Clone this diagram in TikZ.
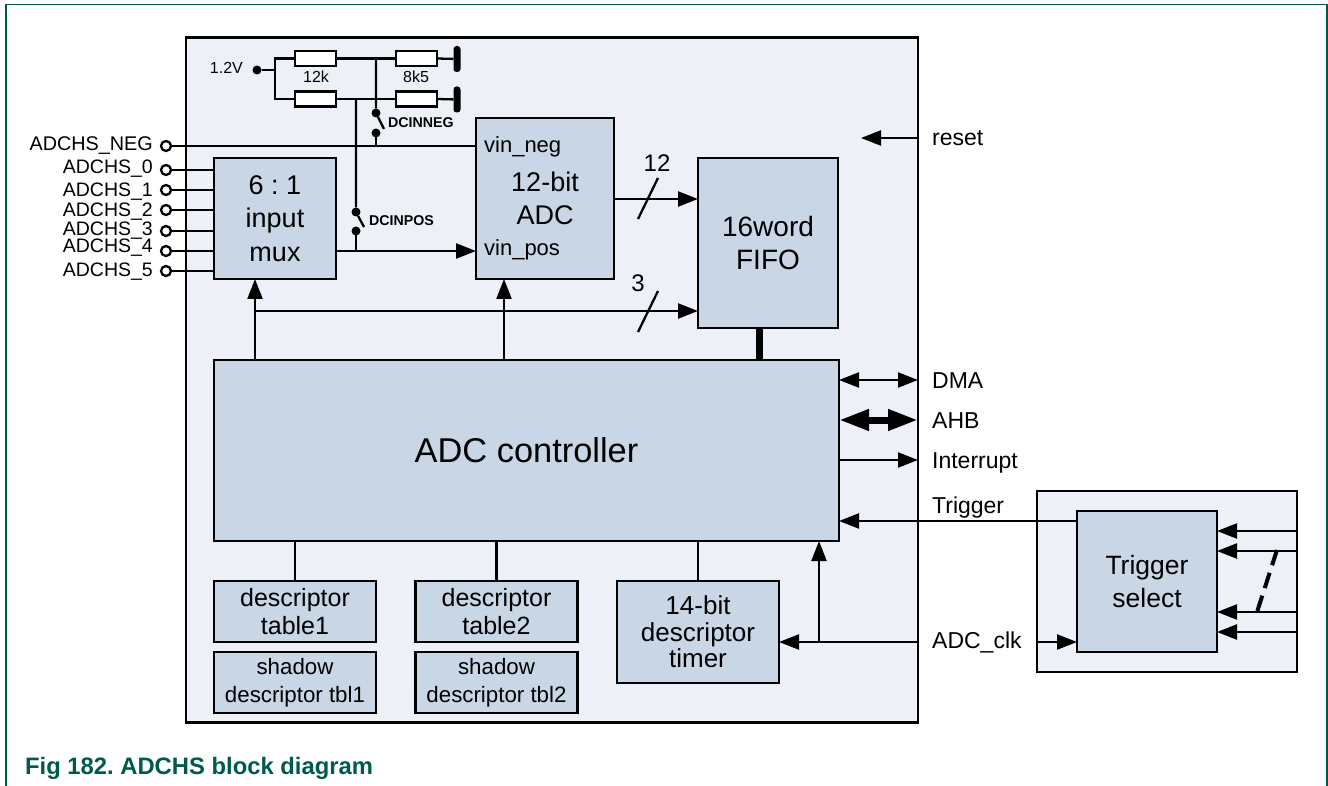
\documentclass[tikz,border=0pt]{standalone}
\usepackage{fontspec}
\setmainfont{Liberation Sans}
\usepackage{tikz}
\usetikzlibrary{arrows.meta, positioning, calc}
\definecolor{framegreen}{HTML}{005A4B}
\definecolor{panelfill}{HTML}{EDF1F7}
\definecolor{blockfill}{HTML}{C8D6E6}
\frenchspacing

\begin{document}
\begin{tikzpicture}[
	x=1pt, y=-1pt,
	node distance=10pt and 40pt,
	line width=2.3pt,
	panel/.style={draw, fill=panelfill, outer sep=0pt, inner sep=0pt, anchor=north west},
	box/.style={draw, fill=blockfill, align=center, outer sep=0pt, inner sep=0pt, minimum width=#1},
	box/.default=162pt,
	largetxt/.style={font=\fontsize{27}{33.5}\selectfont},
	smalltxt/.style={font=\fontsize{25}{27.5}\selectfont, minimum height=61pt},
	res/.style={draw, fill=white, outer sep=0pt, inner sep=0pt, minimum width=41pt, minimum height=15pt},
	gnd/.style={fill=black, rounded corners=3pt, outer sep=0pt, inner sep=0pt, minimum width=7pt, minimum height=26pt},
	pin/.style={circle, draw, fill=white, outer sep=1pt, inner sep=0pt, minimum size=10pt},
	dot/.style={circle, fill=black, outer sep=0pt, inner sep=0pt, minimum size=9pt},
	sig/.style={font=\fontsize{23}{23}\selectfont, inner sep=0pt, anchor=base west},
	pinlbl/.style={font=\fontsize{19.5}{19.5}\selectfont, inner sep=0pt, anchor=base east},
	sw/.style={font=\bfseries\fontsize{14.2}{14.2}\selectfont, inner sep=0pt, anchor=base west},
	val/.style={font=\fontsize{16}{16}\selectfont, inner sep=0pt, anchor=base},
	arrow/.style={-{Triangle[length=20pt,width=15pt]}},
	twoway/.style={{Triangle[length=20pt,width=15pt]}-{Triangle[length=20pt,width=15pt]}},
	bus/.style={line width=7pt, {Triangle[length=30pt,width=20pt]}-{Triangle[length=30pt,width=20pt]}}
]
\useasboundingbox (0,0) rectangle (1328,786);

% Frame and panels
\draw[framegreen, line width=1.3pt] (6,786) -- (6,4.7) -- (1327,4.7) -- (1327,786);
\node[panel, minimum width=732pt, minimum height=685pt] (main) at (186,37.5) {};
\node[panel, minimum width=260pt, minimum height=181pt] (trigpanel) at (1037,491) {};

% Nodes
\node[box=122pt, largetxt, minimum height=121pt] (mux) at (275,218.5) {6 : 1\\input\\mux};
\node[box=138pt, largetxt, minimum height=161pt] (adc) at (545,198.5) {12-bit\\ADC};
\node[box=140pt, largetxt, font=\fontsize{28}{33}\selectfont, minimum height=170pt] (fifo) at (768,243) {16word\\FIFO};
\node[box=625pt, font=\fontsize{34.4}{34.4}\selectfont, minimum height=181pt] (ctrl) at (526.5,450.5) {ADC controller};
\node[box, smalltxt] (tablea) at (295,611.5) {descriptor\\table1};
\node[box, smalltxt, font=\fontsize{22.3}{28}\selectfont, below=of tablea] (shadowa) {shadow\\descriptor tbl1};
\node[box, smalltxt] (tableb) at (496.5,611.5) {descriptor\\table2};
\node[box, smalltxt, font=\fontsize{22.3}{28}\selectfont, below=of tableb] (shadowb) {shadow\\descriptor tbl2};
\node[box, font=\fontsize{26}{26.5}\selectfont, minimum height=102pt] (timer) at (698,632) {14-bit\\descriptor\\timer};
\node[box=140pt, largetxt, font=\fontsize{26.5}{33}\selectfont, minimum height=141pt] (trigsel) at (1147,581.5) {Trigger\\select};

% Pins
\node[pin] (pinneg) at (166,146) {};
\node[pin] (pina) at (166,170) {};
\node[pin] (pinb) at (166,190) {};
\node[pin] (pinc) at (166,210) {};
\node[pin] (pind) at (166,231) {};
\node[pin] (pine) at (166,251) {};
\node[pin] (pinf) at (166,271) {};
\node[pinlbl, font=\fontsize{19.8}{19.8}\selectfont] (lblneg) at (154,151) {ADCHS\_NEG};
\node[pinlbl] (lbla) at (154,174) {ADCHS\_0};
\node[pinlbl] (lblb) at (154,197) {ADCHS\_1};
\node[pinlbl] (lblc) at (154,217) {ADCHS\_2};
\node[pinlbl] (lbld) at (154,236) {ADCHS\_3};
\node[pinlbl] (lble) at (154,253) {ADCHS\_4};
\node[pinlbl] (lblf) at (154,277) {ADCHS\_5};

% Reference divider
\node[dot] (vref) at (257,70) {};
\coordinate (split) at (275,70);
\node[res] (rtopa) at (315.5,58.5) {};
\node[res] (rtopb) at (416.5,58.5) {};
\node[res] (rbota) at (315.5,99) {};
\node[res] (rbotb) at (416.5,99) {};
\node[gnd] (gnda) at (457,59) {};
\node[gnd] (gndb) at (457,99.5) {};
\node[dot] (negtop) at (376,113) {};
\node[dot] (negbot) at (376,133) {};
\node[dot] (postop) at (356,212) {};
\node[dot] (posbot) at (356,231) {};
\coordinate (negblade) at (384,129);
\coordinate (posblade) at (364,227);
\node[val, anchor=base east] (lblvref) at (244,74) {1.2V};
\node[val] (lblrtop) at (316,83) {12k};
\node[val] (lblrbot) at (416,83) {8k5};
\node[sw] (lblswneg) at (387,128) {DCINNEG};
\node[sw] (lblswpos) at (368,226) {DCINPOS};

% Texts at the ports
\node[sig, font=\fontsize{22}{22}\selectfont] (vinneg) at (483,153) {vin\_neg};
\node[sig, font=\fontsize{22}{22}\selectfont] (vinpos) at (483,256) {vin\_pos};
\node[sig, font=\fontsize{24}{24}\selectfont, anchor=center] (lbltwelve) at (657,163) {12};
\node[sig, font=\fontsize{24}{24}\selectfont, anchor=center] (lblthree) at (638,283) {3};
\node[sig] (lblreset) at (931,146) {reset};
\node[sig] (lbldma) at (931,388) {DMA};
\node[sig] (lblahb) at (931,428) {AHB};
\node[sig] (lblint) at (931,468) {Interrupt};
\node[sig] (lbltrig) at (931,513) {Trigger};
\node[sig] (lblclk) at (931,648) {ADC\_clk};
\node[font=\bfseries\fontsize{23.8}{23.8}\selectfont, text=framegreen, inner sep=0pt, anchor=base west] (caption) at (24,774) {Fig 182. ADCHS block diagram};

% Free ends
\coordinate (rsttip) at (861,138);
\coordinate (muxout) at (336,251);
\coordinate (twelve) at (614,199);
\coordinate (three) at (255,311);
\coordinate (muxup) at (255,360);
\coordinate (adcup) at (504,360);
\coordinate (fifolink) at (759,360);
\coordinate (slashaa) at (638,219);
\coordinate (slashab) at (658,178);
\coordinate (slashba) at (638,332);
\coordinate (slashbb) at (658,291);
\coordinate (dmay) at (839,380);
\coordinate (ahby) at (839,420);
\coordinate (inty) at (839,460);
\coordinate (trigout) at (1077,521);
\coordinate (clkin) at (918,642);
\coordinate (clktap) at (819,642);
\coordinate (clkb) at (1037,642);
\coordinate (ina) at (1297,531);
\coordinate (inb) at (1297,551);
\coordinate (inc) at (1297,612);
\coordinate (ind) at (1297,632);
\coordinate (slasha) at (1277,550);
\coordinate (slashb) at (1257,612);

% Edges
\draw (pinneg) -- (pinneg -| adc.west);
\draw (pina) -- (pina -| mux.west);
\draw (pinb) -- (pinb -| mux.west);
\draw (pinc) -- (pinc -| mux.west);
\draw (pind) -- (pind -| mux.west);
\draw (pine) -- (pine -| mux.west);
\draw (pinf) -- (pinf -| mux.west);
\draw[arrow] (muxout) -- (muxout -| adc.west);
\draw (vref) -- (split);
\draw (rtopa.west) -- (split |- rtopa.west) -- (split |- rbota.west) -- (rbota.west);
\draw (rtopa.east) -- (rtopb.west);
\draw (rbota.east) -- (rbotb.west);
\draw (rtopb.east) -- (gnda);
\draw (rbotb.east) -- (gndb);
\draw (negtop |- rtopa.east) -- (negtop) -- (negblade);
\draw (negbot) -- (negbot |- pinneg);
\draw (postop |- rbota.east) -- (postop) -- (posblade);
\draw (posbot) -- (posbot |- muxout);
\draw[arrow] (twelve) -- (twelve -| fifo.west);
\draw[arrow] (three) -- (three -| fifo.west);
\draw[arrow] (muxup) -- (muxup |- mux.south);
\draw[arrow] (adcup) -- (adcup |- adc.south);
\draw (slashaa) -- (slashab);
\draw (slashba) -- (slashbb);
\draw[line width=7pt] (fifolink |- fifo.south) -- (fifolink);
\draw[arrow] (rsttip -| main.east) -- (rsttip);
\draw[twoway] (dmay) -- (dmay -| main.east);
\draw[bus] (ahby) -- (ahby -| main.east);
\draw[arrow] (inty) -- (inty -| main.east);
\draw[arrow] (trigout) -- (trigout -| ctrl.east);
\draw[arrow] (clkin) -- (clkin -| timer.east);
\draw[arrow] (clktap) -- (clktap |- ctrl.south);
\draw[arrow] (clkb) -- (clkb -| trigsel.west);
\draw[arrow] (ina) -- (ina -| trigsel.east);
\draw[arrow] (inb) -- (inb -| trigsel.east);
\draw[arrow] (inc) -- (inc -| trigsel.east);
\draw[arrow] (ind) -- (ind -| trigsel.east);
\draw[line width=4pt, dash pattern=on 16pt off 8pt] (slasha) -- (slashb);
\draw (tablea.north |- ctrl.south) -- (tablea.north);
\draw (tableb.north |- ctrl.south) -- (tableb.north);
\draw (timer.north |- ctrl.south) -- (timer.north);

\end{tikzpicture}
\end{document}
